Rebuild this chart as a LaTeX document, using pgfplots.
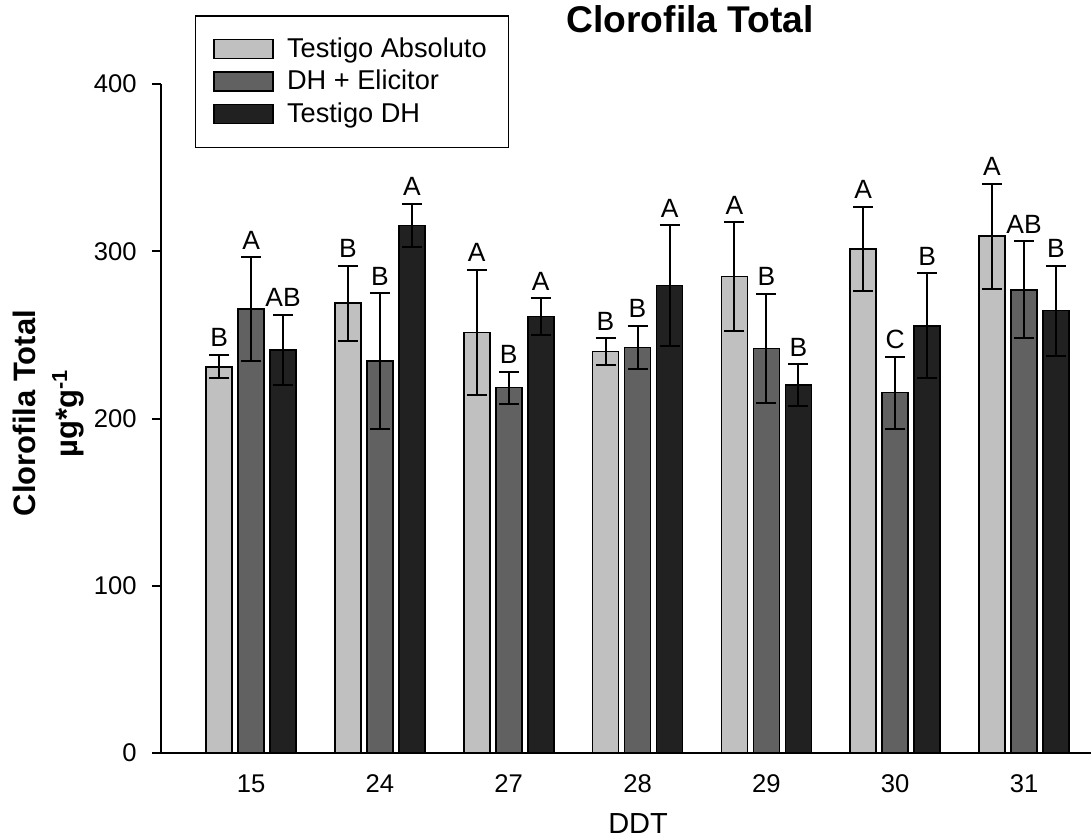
\documentclass[border=0pt]{standalone}
\usepackage{fontspec}
\setmainfont{Liberation Sans}
\usepackage{pgfplots}
\pgfplotsset{compat=1.18}
\usepackage{pgfplotstable}
\usetikzlibrary{calc}

\definecolor{cA}{HTML}{C0C0C0}
\definecolor{cB}{HTML}{616161}
\definecolor{cC}{HTML}{212121}

\pgfplotstableread{
x a ea la b eb lb c ec lc
0 231 7 B 265.5 31 A 241 21 AB
1 269 22.5 B 234.5 40.5 B 315.5 13 A
2 251.5 37.5 A 218.5 9.5 B 261 11 A
3 240 8 B 242.5 13 B 279.5 36 A
4 285 32.5 A 242 32.5 B 220 12.5 B
5 301.5 25 A 215.5 21.5 C 255.5 31.5 B
6 309 31.5 A 277 29 AB 264.5 27 B
}\data

\pgfplotsset{
  mylegend/.style={legend image code/.code={\draw[##1, line width=0.8pt] (0pt,-4.75pt) rectangle (29.5pt,4.75pt);}},
  letters/.style={
    point meta=explicit symbolic,
    nodes near coords,
    visualization depends on={\thisrow{#1} \as \myerr},
    every node near coord/.append style={anchor=base, inner sep=0pt, font=\fontsize{13.2}{15}\selectfont, text=black, yshift={\myerr*0.83625pt+4pt}},
  },
}

\begin{document}
\begin{tikzpicture}
\begin{axis}[
  x=64.4pt, y=0.83625pt,
  xmin=-0.699, xmax=6.52, ymin=0, ymax=400,
  clip=false,
  axis lines=left,
  axis line style={-, line width=1pt},
  ybar=3pt, bar width=13pt,
  xtick={0,1,2,3,4,5,6},
  xticklabels={15,24,27,28,29,30,31},
  x tick style={draw=none},
  ytick={0,100,200,300,400},
  y tick style={line width=1pt, black},
  tick align=outside, major tick length=4.5pt,
  ticklabel style={font=\fontsize{12.8}{14}\selectfont},
  /pgf/number format/assume math mode=true,
  yticklabel style={inner sep=0pt, xshift=-7.5pt},
  xticklabel style={inner sep=0pt, yshift=-6pt},
  title={Clorofila Total},
  title style={font=\fontsize{18.6}{20}\selectfont\bfseries, at={(axis description cs:0.569,1)}, anchor=base, yshift=19.5pt},
  xlabel={DDT},
  xlabel style={font=\fontsize{14.5}{16}\selectfont, at={(axis description cs:0.513,0)}, anchor=base, yshift=-40pt},
  ylabel={Clorofila Total\\µg*g\textsuperscript{-1}},
  ylabel style={font=\fontsize{15.5}{21}\selectfont\bfseries, align=center, at={(axis description cs:-0.1595,0.508)}, anchor=north, inner sep=0pt},
  legend style={at={(axis description cs:0.0362,1.1031)}, anchor=north west, draw=black, line width=0.75pt,
     font=\fontsize{13.6}{15}\selectfont, inner xsep=9pt, inner ysep=9pt, row sep=0.9pt, column sep=4.5pt,
     cells={anchor=west}},
  error bars/error bar style={line width=1pt, black},
  error bars/error mark options={rotate=90, mark size=5pt, line width=1pt, black},
]
\addplot[fill=cA, draw=black, line width=0.8pt, mylegend, letters=ea,
  error bars/.cd, y dir=both, y explicit]
  table[x=x, y=a, y error=ea, meta=la]{\data};
\addplot[fill=cB, draw=black, line width=0.8pt, mylegend, letters=eb,
  error bars/.cd, y dir=both, y explicit]
  table[x=x, y=b, y error=eb, meta=lb]{\data};
\addplot[fill=cC, draw=black, line width=0.8pt, mylegend, letters=ec,
  error bars/.cd, y dir=both, y explicit]
  table[x=x, y=c, y error=ec, meta=lc]{\data};
\legend{Testigo Absoluto, DH + Elicitor, Testigo DH}
\end{axis}
\pgfresetboundingbox
\path ($(current axis.south west)+(-80.5pt,-42pt)$) rectangle ($(current axis.north east)+(0pt,42pt)$);
\end{tikzpicture}
\end{document}
